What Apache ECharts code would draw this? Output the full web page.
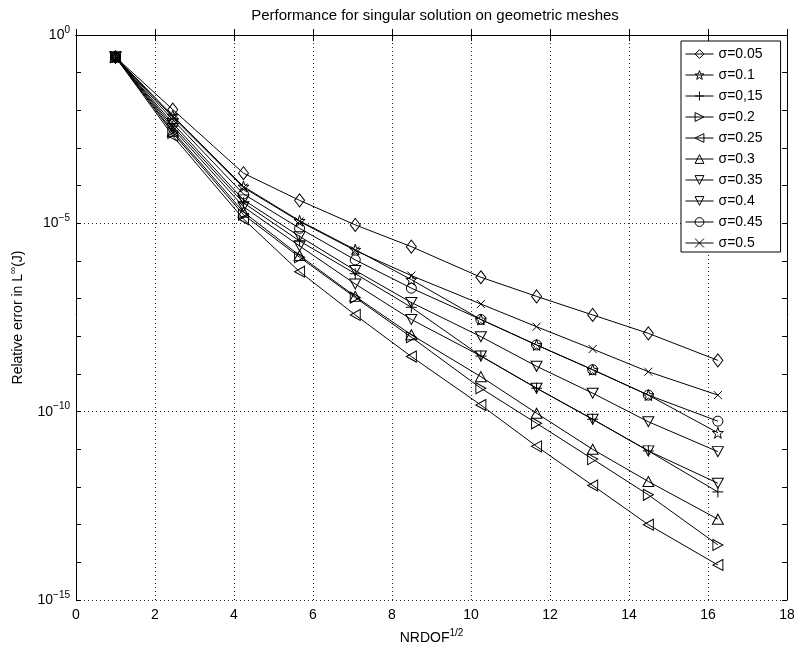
<!DOCTYPE html>
<html>
<head>
<meta charset="utf-8">
<script src="https://cdn.jsdelivr.net/npm/echarts@6/dist/echarts.min.js"></script>
<style>html,body{margin:0;padding:0;background:#fff;}#c{width:800px;height:650px;}</style>
</head>
<body>
<div id="c"></div>
<script>
// ---- data ----
const xValues = [1, 2.45, 4.24, 5.66, 7.07, 8.49, 10.25, 11.66, 13.08, 14.49, 16.25];
const seriesNames = ['σ=0.05', 'σ=0.1', 'σ=0,15', 'σ=0.2', 'σ=0.25', 'σ=0.3', 'σ=0.35', 'σ=0.4', 'σ=0.45', 'σ=0.5'];
const s005 = [2.6e-1, 1.05e-2, 2.14e-4, 4.07e-5, 9.1e-6, 2.4e-6, 3.7e-7, 1.15e-7, 3.7e-8, 1.2e-8, 2.3e-9];
const s010 = [2.6e-1, 7.2e-3, 9.5e-5, 1.17e-5, 2.0e-6, 3.2e-7, 2.8e-8, 5.9e-9, 1.3e-9, 2.75e-10, 2.75e-11];
const s015 = [2.6e-1, 3.8e-3, 3.5e-5, 3.4e-6, 4.6e-7, 5.9e-8, 3.0e-9, 4.2e-10, 6.3e-11, 9.1e-12, 7.4e-13];
const s020 = [2.6e-1, 2.5e-3, 1.7e-5, 1.26e-6, 1.07e-7, 9.5e-9, 4.2e-10, 4.9e-11, 5.5e-12, 6.2e-13, 2.9e-14];
const s025 = [2.6e-1, 2.1e-3, 1.3e-5, 5.2e-7, 3.7e-8, 2.9e-9, 1.5e-10, 1.2e-11, 1.1e-12, 1.0e-13, 8.5e-15];
const s030 = [2.6e-1, 2.8e-3, 2.0e-5, 1.4e-6, 1.15e-7, 1.1e-8, 8.5e-10, 9.1e-11, 1.0e-11, 1.4e-12, 1.4e-13];
const s035 = [2.6e-1, 3.3e-3, 2.75e-5, 2.5e-6, 2.45e-7, 2.8e-8, 3.0e-9, 4.2e-10, 6.3e-11, 9.1e-12, 1.26e-12];
const s040 = [2.6e-1, 4.5e-3, 4.2e-5, 4.5e-6, 5.6e-7, 7.9e-8, 9.8e-9, 1.6e-9, 3.1e-10, 5.4e-11, 8.7e-12];
const s045 = [2.6e-1, 5.6e-3, 6.0e-5, 7.4e-6, 1.07e-6, 1.9e-7, 2.8e-8, 5.9e-9, 1.3e-9, 2.75e-10, 5.6e-11];
const s050 = [2.6e-1, 6.6e-3, 8.9e-5, 1.12e-5, 1.9e-6, 4.1e-7, 7.2e-8, 1.8e-8, 4.6e-9, 1.15e-9, 2.75e-10];
const xTickLabels = ['0', '2', '4', '6', '8', '10', '12', '14', '16', '18'];
const yLabelExponents = [0, -5, -10, -15];

// ---- styling ----
const allData = [s005, s010, s015, s020, s025, s030, s035, s040, s045, s050];
const STAR = 'path://M10,0 L12.35,6.76 L19.51,6.91 L13.8,11.24 L15.88,18.09 L10,14 L4.12,18.09 L6.2,11.24 L0.49,6.91 L7.65,6.76 Z';
const PLUS = 'path://M5,0 L5,10 M0,5 L10,5';
const CROSS = 'path://M0,0 L10,10 M10,0 L0,10';
const RTRI = 'path://M0,0 L10,5 L0,10 Z';
const LTRI = 'path://M10,0 L0,5 L10,10 Z';
const DTRI = 'path://M0,0 L10,0 L5,10 Z';
const symbols = ['diamond', STAR, PLUS, RTRI, LTRI, 'triangle', DTRI, DTRI, 'circle', CROSS];
const sizes = [[10, 13], 11, 11, [10, 11], [10, 11], [11, 10], [11, 10], [11, 10], 10, 8];
const FONT = 'Liberation Sans';
const supRich = (fs, ss) => ({
  b: { fontFamily: FONT, fontSize: fs, color: '#000' },
  s: { fontFamily: FONT, fontSize: ss, color: '#000', padding: [0, 0, Math.round(fs * 0.7), 0] }
});

const series = seriesNames.map((name, i) => ({
  name: name,
  type: 'line',
  yAxisIndex: 0,
  data: xValues.map((x, j) => [x, allData[i][j]]),
  symbol: symbols[i],
  symbolSize: sizes[i],
  showAllSymbol: true,
  lineStyle: { color: '#000', width: 1 },
  itemStyle: { color: 'rgba(0,0,0,0)', borderColor: '#000', borderWidth: 1 },
  emphasis: { disabled: true },
  z: 3
}));

const tickAxis = (pos) => ({
  type: 'value', min: -15, max: 0, interval: 1, position: pos,
  axisLine: { show: true, lineStyle: { color: '#000', width: 1 } },
  axisTick: { show: true, inside: true, length: 5, lineStyle: { color: '#000' } },
  splitLine: { show: false }
});

const chart = echarts.init(document.getElementById('c'));
chart.setOption({
  animation: false,
  backgroundColor: '#fff',
  textStyle: { fontFamily: FONT, color: '#000' },
  title: {
    text: 'Performance for singular solution on geometric meshes',
    left: 430, textAlign: 'center', top: 3,
    textStyle: { fontFamily: FONT, fontSize: 15, fontWeight: 'normal', color: '#000' }
  },
  grid: { left: 73, right: 13, top: 35, bottom: 50 },
  legend: {
    orient: 'vertical', left: 681, top: 41,
    data: seriesNames,
    itemWidth: 28, itemHeight: 11, itemGap: 7,
    padding: [6, 18, 2, 4],
    borderColor: '#000', borderWidth: 1, backgroundColor: '#fff',
    lineStyle: { width: 1, color: '#000' },
    itemStyle: { color: 'rgba(0,0,0,0)', borderColor: '#000', borderWidth: 1 },
    textStyle: { fontFamily: FONT, fontSize: 14, color: '#000' },
    selectedMode: false
  },
  xAxis: [
    {
      type: 'value', min: 0, max: 18, interval: 2, position: 'bottom',
      name: '{b|NRDOF}{s|1/2}', nameLocation: 'middle', nameGap: 28,
      nameTextStyle: { rich: supRich(14, 10) },
      axisLine: { lineStyle: { color: '#000', width: 1 } },
      axisTick: { inside: true, length: 6, lineStyle: { color: '#000' } },
      axisLabel: { fontFamily: FONT, fontSize: 14, color: '#000', margin: 8, formatter: v => xTickLabels[Math.round(v / 2)] },
      splitLine: { show: true, lineStyle: { color: '#222', type: [1, 3], width: 1 } }
    },
    {
      type: 'value', min: 0, max: 18, interval: 2, position: 'top',
      axisLine: { lineStyle: { color: '#000', width: 1 } },
      axisTick: { inside: true, length: 6, lineStyle: { color: '#000' } },
      axisLabel: { show: false }, splitLine: { show: false }
    }
  ],
  yAxis: [
    {
      type: 'log', logBase: 10, min: 1e-15, max: 1, position: 'left',
      axisLine: { show: false }, axisTick: { show: false }, axisLabel: { show: false }, splitLine: { show: false }
    },
    Object.assign(tickAxis('left'), {
      name: '{b|Relative error in L}{s|∞}{b|(J)}', nameLocation: 'middle', nameGap: 48, nameRotate: 90,
      nameTextStyle: { rich: supRich(14, 10) },
      axisLabel: {
        margin: 6,
        formatter: v => {
          const e = Math.round(v);
          if (yLabelExponents.indexOf(e) < 0) return '';
          return '{b|10}{s|' + (e === 0 ? '0' : '−' + (-e)) + '}';
        },
        rich: supRich(14, 10)
      }
    }),
    Object.assign(tickAxis('right'), { axisLabel: { show: false } }),
    {
      type: 'value', min: -15, max: 0, interval: 5, position: 'left',
      axisLine: { show: false }, axisTick: { show: false }, axisLabel: { show: false },
      splitLine: { show: true, lineStyle: { color: '#222', type: [1, 3], width: 1 } }
    }
  ],
  series: series
});
</script>
</body>
</html>
